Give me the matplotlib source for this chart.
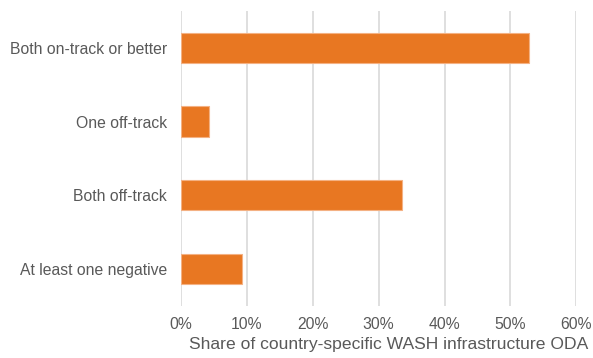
import matplotlib.pyplot as plt
from matplotlib.ticker import PercentFormatter

categories = ['Both on-track or better', 'One off-track', 'Both off-track', 'At least one negative']
shares = [52.8, 4.2, 33.6, 9.3]

plt.rcParams['font.family'] = ['Liberation Sans', 'DejaVu Sans']
text_grey = '#595959'

fig = plt.figure(figsize=(5.93, 3.58), dpi=100)
ax = fig.add_axes([0.305, 0.146, 0.667, 0.823])

y = list(range(len(categories)))[::-1]
ax.barh(y, shares, height=0.41, color='#E87722', edgecolor='#F4B183', linewidth=0.8, zorder=3)

ax.set_xlim(0, 60)
ax.set_ylim(-0.5, len(categories) - 0.5)
ax.set_xticks(range(0, 61, 10))
ax.xaxis.set_major_formatter(PercentFormatter(decimals=0))
ax.set_yticks(y)
ax.set_yticklabels(categories)
ax.grid(axis='x', color='#D9D9D9', linewidth=1.2, zorder=0)
for s in ax.spines.values():
    s.set_visible(False)
ax.tick_params(length=0, labelsize=11.3, colors=text_grey, pad=10)
ax.tick_params(axis='x', pad=8)
ax.set_xlabel('Share of country-specific WASH infrastructure ODA', fontsize=12.6,
              color=text_grey)
ax.xaxis.set_label_coords(0.525, -0.105)

fig.savefig('out.png', dpi=100)
